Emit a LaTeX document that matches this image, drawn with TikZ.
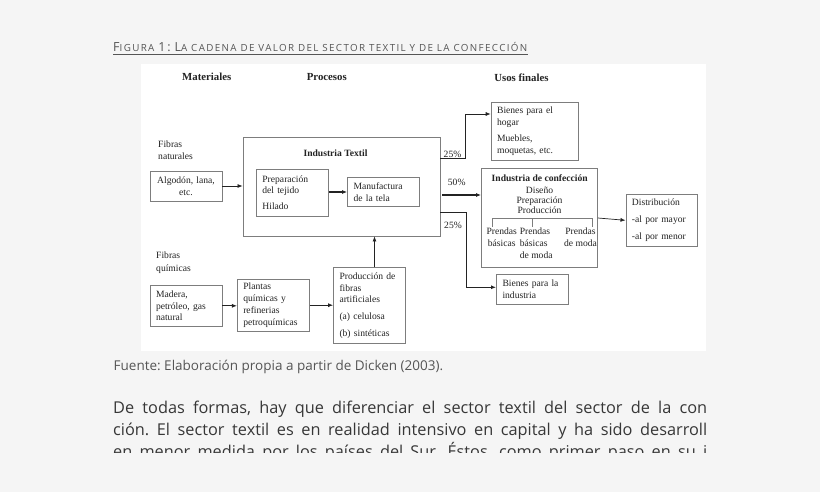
\documentclass[tikz,border=0pt]{standalone}
\usepackage{fontspec}
\setmainfont{Liberation Serif}
\newfontfamily\pagefont[Ligatures=NoCommon]{Open Sans}
\newfontfamily\titfont[Ligatures=NoCommon, LetterSpace=14]{Open Sans}
\usetikzlibrary{positioning, arrows.meta, calc}
\definecolor{pagegray}{RGB}{245,245,245}
\definecolor{boxgray}{RGB}{125,125,125}
\definecolor{inkgray}{RGB}{35,35,35}
\definecolor{titgray}{RGB}{85,85,85}
\definecolor{bodygray}{RGB}{55,55,55}
\newcommand{\capup}[1]{{\fontsize{12.5}{14}\selectfont #1}}
\newcommand{\caplow}[1]{{\fontsize{9.8}{11}\selectfont #1}}

\tikzset{
  caja/.style={draw=boxgray, line width=0.9pt, inner xsep=6pt, inner ysep=2pt, text=inkgray, align=left, font=\fontsize{9.6}{11.7}\selectfont},
  rotulo/.style={text=inkgray, inner sep=0pt, font=\fontsize{9.6}{11.7}\selectfont},
  cabecera/.style={text=inkgray, inner sep=0pt, font=\bfseries\fontsize{10.8}{12}\selectfont},
  flecha/.style={draw=inkgray, line width=0.7pt, -{Latex[length=5pt,width=4pt]}},
  flechagruesa/.style={flecha, line width=1.6pt},
  renglon/.style={anchor=base west, inner sep=0pt, text=bodygray, font=\pagefont\fontsize{16.3}{20}\selectfont}
}

\begin{document}
\frenchspacing
\begin{tikzpicture}[x=1pt, y=-1pt]
\fill[pagegray] (0,0) rectangle (820,492);
\useasboundingbox (0,0) rectangle (820,492);
\fill[white] (141,64) rectangle (706,351);

% title and source
\node[anchor=base west, inner sep=0pt, text=titgray, font=\titfont] (tit) at (113,52)
  {\capup{F}\caplow{IGURA} \capup{1:} \capup{L}\caplow{A CADENA DE VALOR DEL SECTOR TEXTIL Y DE LA CONFECCIÓN}};
\draw[titgray, line width=0.6pt] ([yshift=-2pt]tit.base west) -- ([yshift=-2pt]tit.base east);
\node[anchor=base west, inner sep=0pt, text=titgray, font=\pagefont\fontsize{13.5}{15}\selectfont] (fuente) at (113.5,370)
  {Fuente: Elaboración propia a partir de Dicken (2003).};

% column headers
\node[cabecera] (materiales) at (206.8,77) {Materiales};
\node[cabecera] (procesos) at (326.8,77.5) {Procesos};
\node[cabecera] (usos) at (521.4,77.5) {Usos finales};

% materials
\node[rotulo, anchor=west, align=left] (fibnat) at (158,150.5) {Fibras\\naturales};
\node[caja, minimum height=30pt, text width=60pt, align=center] (alg) at (186,186) {Algodón, lana,\\etc.};
\node[rotulo, anchor=west, align=left, font=\fontsize{9.6}{12.7}\selectfont] (fibqui) at (156,262.5) {Fibras\\químicas};
\node[caja, minimum height=40.5pt, text width=60pt] (madera) at (186,305.8) {Madera,\\petróleo, gas\\natural};

% processes
\node[caja, minimum height=99pt, text width=185pt] (textil) at (341.5,186.5) {};
\node[rotulo, font=\bfseries\fontsize{9.6}{11.7}\selectfont] (textiltit) at (335.5,153.7) {Industria Textil};
\node[caja, minimum height=47pt, text width=60pt] (prep) at (292.4,192.7) {Preparación\\del tejido\\[4pt]Hilado};
\node[caja, minimum height=29.5pt, text width=60pt] (manu) at (383.6,192) {Manufactura\\de la tela};
\node[caja, minimum height=52pt, text width=60pt] (plantas) at (273.3,305.2) {Plantas\\químicas y\\refinerias\\petroquímicas};
\node[caja, minimum height=75.5pt, text width=60pt] (prod) at (369.5,305.5) {Producción de\\fibras\\artificiales\\[5pt](a) celulosa\\[5pt](b) sintéticas};

% final uses
\node[caja, minimum height=58pt, text width=75pt] (hogar) at (534.6,131.3) {Bienes para el\\hogar\\[5pt]Muebles,\\moquetas, etc.};
\node[caja, minimum height=99pt, text width=104pt] (conf) at (539.5,218) {};
\node[rotulo, font=\bfseries\fontsize{9.6}{11.7}\selectfont] (conftit) at (539.7,177.7) {Industria de confección};
\node[rotulo, align=center, font=\fontsize{9.6}{10}\selectfont] (pasos) at (539.5,200.2) {Diseño\\Preparación\\Producción};
\draw[boxgray, line width=0.7pt] (492,226.7) |- (592.3,218.3) -- (592.3,226.7);
\draw[boxgray, line width=0.7pt] (532.7,218.3) -- (532.7,226.7);
\node[rotulo, align=center] (pbas) at (501.7,237.2) {Prendas\\básicas};
\node[rotulo, anchor=north west, align=left, font=\fontsize{9.6}{11.9}\selectfont] (pbasmod) at (519.6,227.6) {Prendas\\básicas\\de moda};
\node[rotulo, align=center] (pmod) at (580.5,237.2) {Prendas\\de moda};
\node[caja, minimum height=52pt, text width=59.5pt] (dist) at (661.7,220.3) {Distribución\\[5pt]-al por mayor\\[5pt]-al por menor};
\node[caja, minimum height=30pt, text width=60pt] (ind) at (532.5,289.3) {Bienes para la\\industria};

% shares
\node[rotulo] (p25a) at (452.5,154) {25\%};
\node[rotulo] (p50) at (456.7,182.7) {50\%};
\node[rotulo] (p25b) at (453,225) {25\%};
\coordinate (bifsup) at (465,158.5);
\coordinate (bifinf) at (466.7,212.3);

% connectors
\draw[flecha] (alg.east) -- (textil.west |- alg.east);
\draw[flechagruesa] (prep.east |- manu.west) -- (manu.west);
\draw[flecha] (madera.east) -- (plantas.west |- madera.east);
\draw[flecha] (plantas.east) -- (prod.west |- plantas.east);
\draw[flecha] ([xshift=5pt]prod.north) -- ([xshift=5pt]prod.north |- textil.south);
\draw[flecha] (textil.east |- bifsup) -- (bifsup) |- ([yshift=17.3pt]hogar.west);
\draw[flechagruesa] ([shift={(2pt,-8.5pt)}]textil.east) -- ([yshift=23pt]conf.west);
\draw[flecha, line width=1.1pt] (textil.east |- bifinf) -- (bifinf) |- ([yshift=2pt]ind.west);
\draw[flecha] (conf.east) -- (dist.west);

% running text of the page
\begin{scope}
\clip (0,0) rectangle (820,452.5);
\node[renglon] (lin1) at (113,413)
  {\makebox[594pt][s]{De todas formas, hay que diferenciar el sector textil del sector de la con}};
\node[renglon] (lin2) at (113,435)
  {\makebox[594pt][s]{ción. El sector textil es en realidad intensivo en capital y ha sido desarroll}};
\node[renglon] (lin3) at (113,457)
  {\makebox[594pt][s]{en menor medida por los países del Sur. Éstos, como primer paso en su i}};
\end{scope}
\end{tikzpicture}
\end{document}
